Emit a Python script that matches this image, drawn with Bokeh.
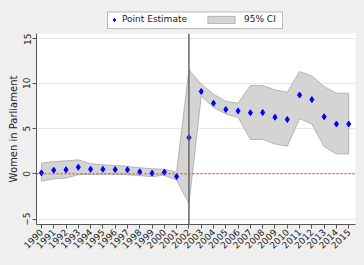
from bokeh.plotting import figure
from bokeh.layouts import column
from bokeh.models import (Span, Legend, LegendItem, FixedTicker, Range1d,
                          BoxAnnotation, GlobalInlineStyleSheet)
from bokeh.embed import file_html
from bokeh.resources import INLINE

years = list(range(1990, 2016))
estimate = [0.1, 0.4, 0.45, 0.73, 0.5, 0.5, 0.47, 0.45, 0.22, 0.07, 0.18, -0.3,
            4.0, 9.1, 7.8, 7.1, 6.95, 6.75, 6.77, 6.25, 6.0, 8.7, 8.2, 6.3, 5.5, 5.5]
upper = [1.17, 1.35, 1.43, 1.54, 1.10, 0.99, 0.92, 0.81, 0.66, 0.55, 0.51, 0.18,
         11.5, 9.9, 8.8, 8.0, 7.8, 9.75, 9.75, 9.27, 9.0, 11.3, 10.8, 9.64, 8.9, 8.9]
lower = [-0.8, -0.55, -0.47, -0.1, -0.05, -0.05, -0.05, -0.1, -0.2, -0.3, -0.15, -0.7,
         -3.3, 8.6, 7.35, 6.6, 6.25, 3.8, 3.8, 3.3, 3.05, 6.1, 5.5, 3.0, 2.2, 2.2]
y_ticks = [-5, 0, 5, 10, 15]
x_labels = [str(y) for y in years]
break_year = 2002

FONT = "DejaVu Sans"
BG = "#efefef"
PT_COLOR = "#0000ff"
BAND_FILL = "#d4d4d4"
BAND_LINE = "#b4b4b4"

band_x = years + years[::-1]
band_y = upper + lower[::-1]

# ---- main plot ----
p = figure(frame_width=319, frame_height=191, output_backend="svg", toolbar_location=None,
           x_range=Range1d(1989.6, 2015.55), y_range=Range1d(-5.6, 15.5),
           min_border_left=36, min_border_right=9, min_border_top=0, min_border_bottom=40)
p.background_fill_color = "white"
p.border_fill_color = BG
p.outline_line_color = None

p.patch(band_x, band_y, fill_color=BAND_FILL, line_color=BAND_LINE, line_width=1)

p.add_layout(Span(location=0, dimension="width", line_color="#e03030",
                  line_dash="2 2", line_width=1))
p.add_layout(Span(location=break_year, dimension="height", line_color="#666666",
                  line_width=1.5))

p.scatter(years, estimate, marker="diamond", size=6, color=PT_COLOR)

p.xgrid.visible = False
p.ygrid.ticker = FixedTicker(ticks=y_ticks)
p.ygrid.grid_line_color = "#e6e6e6"

p.xaxis.ticker = FixedTicker(ticks=years)
p.xaxis.major_label_overrides = {y: s for y, s in zip(years, x_labels)}
p.xaxis.major_label_orientation = 0.785
p.yaxis.ticker = FixedTicker(ticks=y_ticks)
p.yaxis.major_label_orientation = "vertical"
p.yaxis.axis_label = "Women in Parliament"
p.yaxis.axis_label_text_font_style = "normal"
p.yaxis.axis_label_standoff = 2

for ax in (p.xaxis, p.yaxis):
    ax.axis_line_color = "#555555"
    ax.major_tick_line_color = "#555555"
    ax.minor_tick_line_color = None
    ax.major_tick_out = 4
    ax.major_tick_in = 0
    ax.major_label_text_font = FONT
    ax.major_label_text_font_size = "9px"
    ax.major_label_text_color = "#222222"
    ax.axis_label_text_font = FONT
    ax.axis_label_text_font_size = "10px"
    ax.axis_label_text_color = "#222222"
    ax.major_label_standoff = 2

# ---- legend strip (frame aligned with the main plot's frame) ----
lg = figure(frame_width=319, frame_height=33, output_backend="svg", toolbar_location=None,
            x_range=Range1d(0, 319), y_range=Range1d(0, 33),
            min_border_left=36, min_border_right=9, min_border_top=0, min_border_bottom=0)
lg.axis.visible = False
lg.grid.visible = False
lg.outline_line_color = None
lg.background_fill_color = BG
lg.border_fill_color = BG
lg.stylesheets = [GlobalInlineStyleSheet(css="body { background: #efefef; }")]

lg.add_layout(BoxAnnotation(left=71, right=246, bottom=5, top=21.5,
                            fill_color="white", fill_alpha=1.0,
                            line_color="#333333", line_width=1))

# same series, drawn outside this strip's visible range: only their legend glyphs show
pt_key = lg.scatter(years, estimate, marker="diamond", size=6, color=PT_COLOR)
band_key = lg.patch(band_x, band_y, fill_color=BAND_FILL, line_color=BAND_LINE, line_width=1)

common = dict(orientation="horizontal", label_text_font=FONT, label_text_font_size="9px",
              label_text_color="#222222", border_line_color=None,
              background_fill_alpha=0, glyph_height=9, label_height=9,
              padding=0, margin=0, spacing=0)
lg.add_layout(Legend(items=[LegendItem(label="Point Estimate", renderers=[pt_key])],
                     location=(73, 9), glyph_width=10, label_standoff=3, **common), "center")
lg.add_layout(Legend(items=[LegendItem(label="95% CI", renderers=[band_key])],
                     location=(168, 9), glyph_width=34, label_standoff=6, **common), "center")

layout = column(lg, p, spacing=0)
open("out.html", "w").write(file_html(layout, INLINE))
